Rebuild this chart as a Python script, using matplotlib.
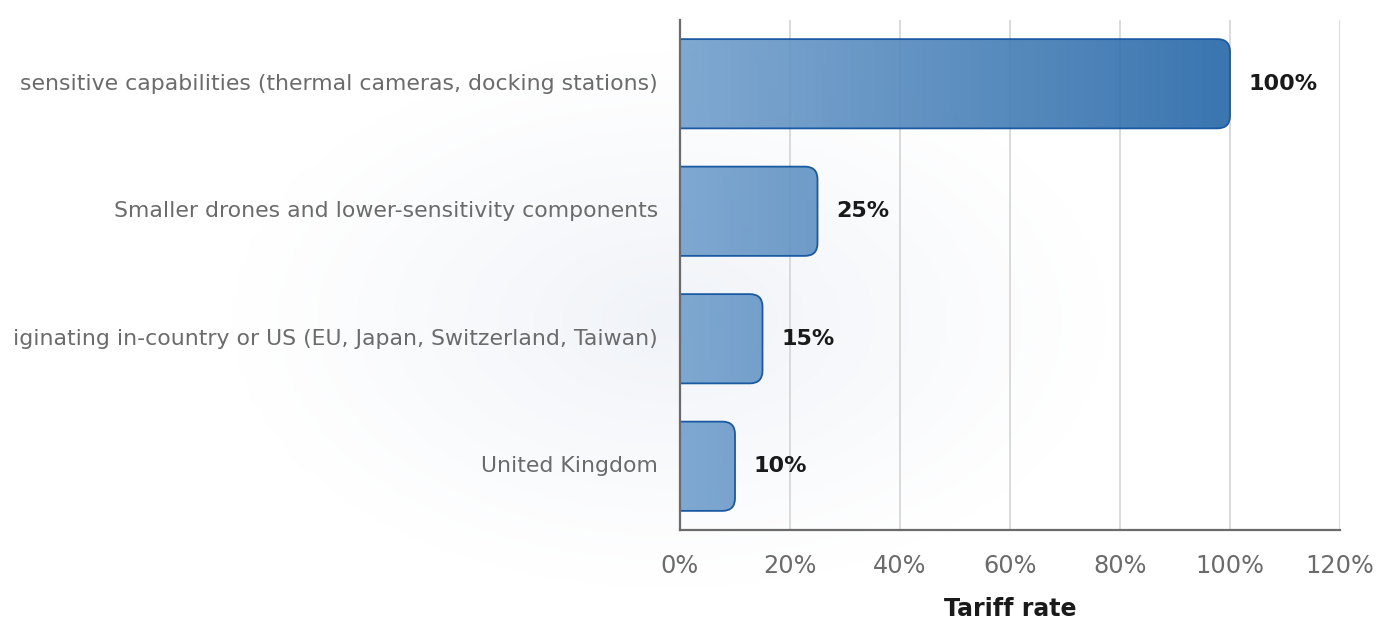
import numpy as np
import matplotlib
matplotlib.use("Agg")
import matplotlib.pyplot as plt
from matplotlib.colors import LinearSegmentedColormap
from matplotlib.patches import FancyBboxPatch
from matplotlib.ticker import FuncFormatter

# data (labels as they appear, cut on the left in the source)
categories = [
    "sensitive capabilities (thermal cameras, docking stations)",
    "Smaller drones and lower-sensitivity components",
    "iginating in-country or US (EU, Japan, Switzerland, Taiwan)",
    "United Kingdom",
]
rates = [100, 25, 15, 10]
value_labels = ["100%", "25%", "15%", "10%"]

grey = "#6b6b6b"
edge = "#1a5aa2"

fig = plt.figure(figsize=(13.8, 6.4), dpi=100)
fig.patch.set_facecolor("white")

# faint radial background
bg = fig.add_axes([0, 0, 1, 1], zorder=-10)
gx, gy = np.meshgrid(np.linspace(0, 1380, 460), np.linspace(0, 640, 214))
r = np.sqrt(((gx - 670) / 440) ** 2 + ((gy - 320) / 270) ** 2)
shade = np.clip(1 - r, 0, 1) ** 1.1
bgcmap = LinearSegmentedColormap.from_list("bg", ["#ffffff", "#f0f3f8"])
bg.imshow(shade, cmap=bgcmap, vmin=0, vmax=1, extent=[0, 1380, 640, 0], aspect="auto")
bg.axis("off")

ax = fig.add_axes([680 / 1380, 1 - 530 / 640, 660 / 1380, 510 / 640])
ax.set_facecolor("none")

ax.grid(axis="x", color="#d4d4d4", linewidth=1.2, zorder=0)
ax.set_axisbelow(True)

cmap = LinearSegmentedColormap.from_list("bars", ["#729fcc", "#2466a7"])
grad = np.linspace(0, 1, 256).reshape(1, -1)
h = 0.7
for i, v in enumerate(rates):
    box = FancyBboxPatch((-10, i - h / 2), v + 10, h,
                         boxstyle="round,pad=0,rounding_size=2.3",
                         mutation_aspect=0.043,
                         facecolor="none", edgecolor=edge, linewidth=1.3, zorder=3)
    ax.add_patch(box)
    im = ax.imshow(grad, cmap=cmap, extent=[0, 100, i + h / 2, i - h / 2],
                   aspect="auto", alpha=0.9, zorder=2)
    im.set_clip_path(box)
    ax.text(v + 3.4, i, value_labels[i], va="center", ha="left",
            fontsize=16, fontweight="bold", color="#1a1a1a", zorder=4)
ax.set_ylim(3.5, -0.5)
ax.set_xlim(0, 120)

ax.set_yticks(range(len(categories)))
ax.set_yticklabels(categories, va="center")
ax.set_xticks(range(0, 121, 20))
ax.xaxis.set_major_formatter(FuncFormatter(lambda x, p: f"{x:.0f}%"))
ax.tick_params(axis="y", length=0, pad=16, labelsize=15.8, labelcolor=grey)
ax.tick_params(axis="x", length=0, pad=17, labelsize=17.3, labelcolor=grey)

for s in ["top", "right"]:
    ax.spines[s].set_visible(False)
for s in ["left", "bottom"]:
    ax.spines[s].set_color(grey)
    ax.spines[s].set_linewidth(1.6)
    ax.spines[s].set_zorder(5)

ax.set_xlabel("Tariff rate", fontsize=17, fontweight="bold", color="#1a1a1a", labelpad=14)

fig.savefig("out.png", dpi=100)
